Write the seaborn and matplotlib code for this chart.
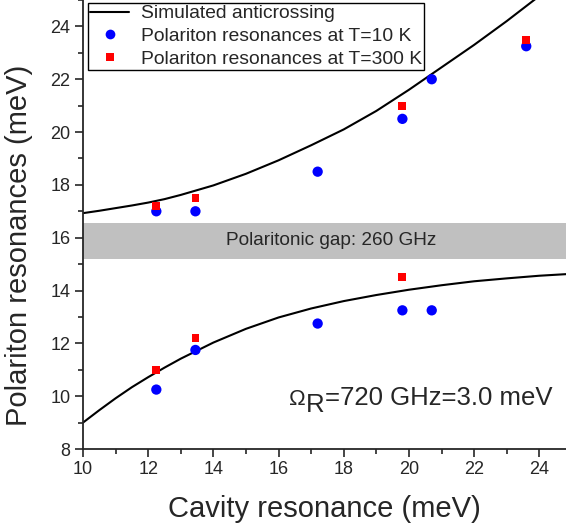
import numpy as np
import pandas as pd
import matplotlib
matplotlib.use("Agg")
import matplotlib.pyplot as plt
from matplotlib.lines import Line2D
from matplotlib.ticker import MultipleLocator
from matplotlib.transforms import offset_copy
import seaborn as sns

# Simulated anticrossing branches
sim_x = [10.0, 10.5, 11.0, 11.5, 12.0, 12.5, 13.0, 14.0, 15.0, 16.0, 17.0, 18.0, 19.0,
         20.0, 21.0, 22.0, 23.0, 24.0, 24.82]
sim_upper = [16.93, 17.02, 17.12, 17.22, 17.33, 17.46, 17.62, 17.98, 18.42, 18.93, 19.5, 20.1,
             20.8, 21.6, 22.45, 23.3, 24.2, 25.15, 25.95]
sim_lower = [9.0, 9.47, 9.92, 10.34, 10.72, 11.08, 11.42, 12.03, 12.55, 12.98, 13.32, 13.6,
             13.83, 14.03, 14.2, 14.35, 14.46, 14.56, 14.62]

# Measured polariton resonances, T = 10 K
cav_10k = [12.25, 13.45, 17.2, 19.8, 20.7, 23.6, 12.25, 13.45, 17.2, 19.8, 20.7]
res_10k = [17.0, 17.0, 18.5, 20.5, 22.0, 23.25, 10.25, 11.75, 12.75, 13.25, 13.25]

# Measured polariton resonances, T = 300 K
cav_300k = [12.25, 13.45, 19.8, 23.6, 12.25, 13.45, 19.8]
res_300k = [17.2, 17.5, 21.0, 23.5, 11.0, 12.2, 14.5]

gap_lo, gap_hi = 15.2, 16.56

sns.set_style("ticks")
plt.rcParams["font.family"] = ["Liberation Sans", "DejaVu Sans"]

fig = plt.figure(figsize=(5.66, 5.29), dpi=100)
ax = fig.add_axes([83 / 566, 80 / 529, 483 / 566, 449 / 529])

ax.axhspan(gap_lo, gap_hi, color="#c0c0c0", lw=0, zorder=0)

df_sim = pd.DataFrame({"x": sim_x + sim_x,
                       "y": sim_upper + sim_lower,
                       "branch": ["upper"] * len(sim_x) + ["lower"] * len(sim_x)})
sns.lineplot(data=df_sim, x="x", y="y", units="branch", estimator=None,
             color="black", lw=1.5, ax=ax, legend=False, sort=True)

sns.scatterplot(x=cav_10k, y=res_10k, color="#0000ff", marker="o", s=55,
                edgecolor="none", ax=ax, zorder=3, legend=False)
sns.scatterplot(x=cav_300k, y=res_300k, color="#ff0000", marker="s", s=32,
                edgecolor="none", ax=ax, zorder=3, legend=False)

ax.set_xlim(10, 24.82)
ax.set_ylim(8, 25)
ax.xaxis.set_major_locator(MultipleLocator(2))
ax.xaxis.set_minor_locator(MultipleLocator(1))
ax.yaxis.set_major_locator(MultipleLocator(2))
ax.yaxis.set_minor_locator(MultipleLocator(1))
ax.tick_params(which="major", direction="out", length=6, width=1.2, labelsize=13, pad=3)
ax.tick_params(which="minor", direction="out", length=3.5, width=1.2)
for side in ["top", "right"]:
    ax.spines[side].set_visible(False)
for side in ["left", "bottom"]:
    ax.spines[side].set_linewidth(1.3)

ax.set_xlabel("Cavity resonance (meV)", fontsize=21, labelpad=12)
ax.set_ylabel("Polariton resonances (meV)", fontsize=21)
ax.yaxis.set_label_coords(-0.103, 0.454)

ax.text(17.6, (gap_lo + gap_hi) / 2, "Polaritonic gap: 260 GHz",
        ha="center", va="center", fontsize=13.7)

# Omega_R label: Omega, lowered full-size R, then the value text
fig.canvas.draw()
renderer = fig.canvas.get_renderer()
t_main = ax.text(24.4, 9.67, "=720 GHz=3.0 meV", ha="right", va="baseline", fontsize=18.5)
bb = t_main.get_window_extent(renderer)
x_left = ax.transData.inverted().transform((bb.x0, bb.y0))[0]
t_r = ax.text(x_left, 9.67, "R", ha="right", va="baseline", fontsize=18.5,
              transform=offset_copy(ax.transData, fig=fig, x=0, y=-5, units="points"))
bb_r = t_r.get_window_extent(renderer)
x_om = ax.transData.inverted().transform((bb_r.x0, bb_r.y0))[0]
ax.text(x_om, 9.67, "Ω", ha="right", va="baseline", fontsize=16)

handles = [
    Line2D([], [], color="black", lw=1.5),
    Line2D([], [], color="#0000ff", marker="o", ls="none", markersize=7, markeredgewidth=0),
    Line2D([], [], color="#ff0000", marker="s", ls="none", markersize=5.5, markeredgewidth=0),
]
labels = ["Simulated anticrossing", "Polariton resonances at T=10 K",
          "Polariton resonances at T=300 K"]
leg = ax.legend(handles, labels, loc="lower left", bbox_to_anchor=(0.0104, 0.843),
                fontsize=13.9, frameon=True, fancybox=False, framealpha=1,
                edgecolor="black", handlelength=2.0, handletextpad=0.6,
                labelspacing=0.28, borderpad=0.12, borderaxespad=0)
leg.get_frame().set_linewidth(1.0)

fig.savefig("out.png", dpi=100)
